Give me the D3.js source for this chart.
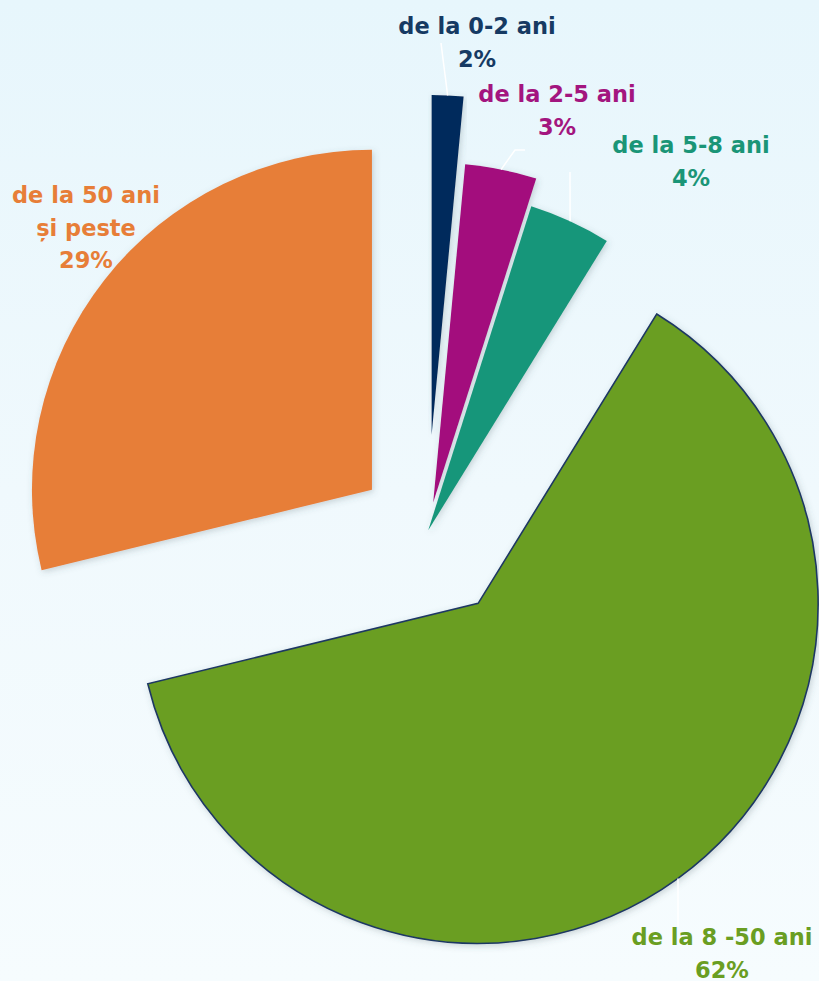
<!DOCTYPE html>
<html>
<head>
<meta charset="utf-8">
<script src="https://cdn.jsdelivr.net/npm/d3@7"></script>
<style>
    html, body { margin: 0; padding: 0; }
    body { width: 819px; height: 981px; overflow: hidden; }
    svg { display: block; }
    .slice-label { font-family: "DejaVu Sans", sans-serif; font-weight: bold; font-size: 22.5px; }
</style>
</head>
<body>
<script>
// Chart data
const categories = ["de la 0-2 ani", "de la 2-5 ani", "de la 5-8 ani", "de la 8 -50 ani", "de la 50 ani\nși peste"];
const values = [1.5, 3.4, 3.9, 62.4, 28.8];

// Styling per slice
const sliceColors = ["#062c5b", "#a3107d", "#15967a", "#6a9e20", "#e77e38"];
const labelColors = ["#163a63", "#a3157f", "#1a9577", "#6a9e22", "#e77e38"];
const explode = [98, 31, 3, 87, 70];

// Manual label placement (like Excel's dragged labels)
const labelPos = [[477, 34], [557, 102], [691, 153], [722, 945], [86, 203]];
const leaderPts = [[[441, 43]], [[515, 150], [525, 150]], [[570, 172]], [[678, 927]], []];

const CONFIG = {
    width: 819,
    height: 981,
    center: [427, 533],
    radius: 340,
    lineHeight: 32.5
};

class ExplodedPie {
    constructor(config) {
        this.config = config;
        this.svg = d3.select("body").append("svg")
            .attr("width", config.width)
            .attr("height", config.height);
        this.addDefs();
    }

    addDefs() {
        const defs = this.svg.append("defs");
        const bg = defs.append("linearGradient")
            .attr("id", "bg").attr("x1", 0).attr("y1", 0).attr("x2", 0).attr("y2", 1);
        bg.append("stop").attr("offset", "0%").attr("stop-color", "#e7f6fc");
        bg.append("stop").attr("offset", "50%").attr("stop-color", "#f0f9fd");
        bg.append("stop").attr("offset", "100%").attr("stop-color", "#f6fcfe");

        defs.append("filter").attr("id", "shadow")
            .attr("x", "-10%").attr("y", "-10%").attr("width", "120%").attr("height", "120%")
            .append("feDropShadow")
            .attr("dx", 1.5).attr("dy", 2).attr("stdDeviation", 3)
            .attr("flood-color", "#4a5a60").attr("flood-opacity", 0.25);
    }

    render() {
        const { width, height, center, radius } = this.config;
        this.svg.append("rect").attr("width", width).attr("height", height).attr("fill", "url(#bg)");

        const pie = d3.pie().sort(null).value(d => d);
        const arcs = pie(values);
        const arc = d3.arc().innerRadius(0).outerRadius(radius);

        // offset of each slice along its bisector
        const offsetOf = (d, i) => {
            const mid = (d.startAngle + d.endAngle) / 2;
            return [center[0] + explode[i] * Math.sin(mid), center[1] - explode[i] * Math.cos(mid)];
        };

        const slices = this.svg.append("g").attr("class", "slices");
        arcs.forEach((d, i) => {
            const [ox, oy] = offsetOf(d, i);
            slices.append("path")
                .attr("transform", `translate(${ox},${oy})`)
                .attr("d", arc(d))
                .attr("fill", sliceColors[i])
                .attr("stroke", i === 3 ? "#1f3864" : "none")
                .attr("stroke-width", 1.6)
                .attr("filter", "url(#shadow)");
        });

        // leader lines: from arc midpoint to the label
        const leaders = this.svg.append("g").attr("class", "leaders");
        arcs.forEach((d, i) => {
            if (!leaderPts[i].length) return;
            const [ox, oy] = offsetOf(d, i);
            const mid = (d.startAngle + d.endAngle) / 2;
            const start = [ox + radius * Math.sin(mid), oy - radius * Math.cos(mid)];
            leaders.append("path")
                .attr("d", d3.line()([start, ...leaderPts[i]]))
                .attr("fill", "none")
                .attr("stroke", "#ffffff")
                .attr("stroke-width", 1.5);
        });

        // labels
        const labels = this.svg.append("g").attr("class", "labels");
        arcs.forEach((d, i) => {
            const lines = categories[i].split("\n").concat([`${Math.round(values[i])}%`]);
            const text = labels.append("text")
                .attr("class", "slice-label")
                .attr("text-anchor", "middle")
                .attr("fill", labelColors[i]);
            lines.forEach((line, k) => {
                text.append("tspan")
                    .attr("x", labelPos[i][0])
                    .attr("y", labelPos[i][1] + k * this.config.lineHeight)
                    .text(line);
            });
        });
    }
}

document.addEventListener("DOMContentLoaded", () => {
    const chart = new ExplodedPie(CONFIG);
    chart.render();
});
</script>
</body>
</html>
